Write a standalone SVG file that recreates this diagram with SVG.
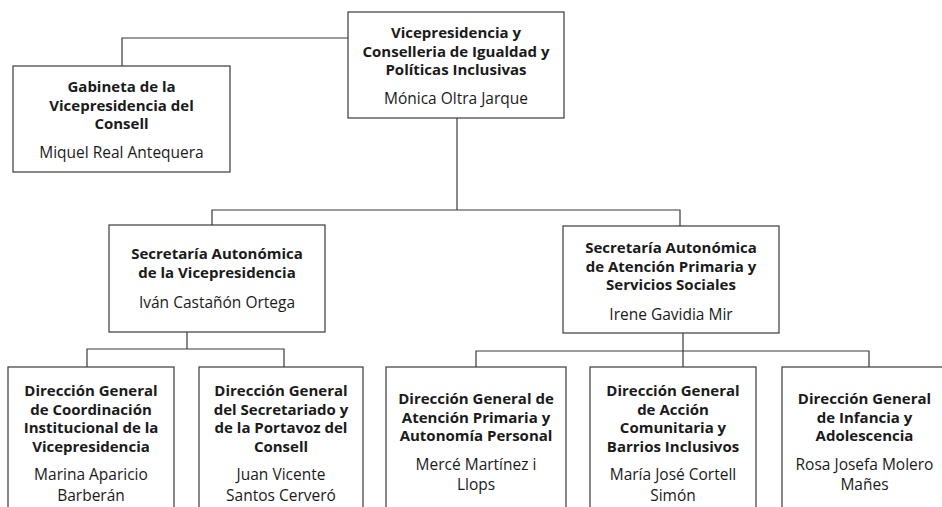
<svg xmlns="http://www.w3.org/2000/svg" width="942" height="507" viewBox="0 0 942 507">
<style>
  .box { fill: #ffffff; stroke: #3a3a3a; stroke-width: 1.2; }
  .conn { fill: none; stroke: #3a3a3a; stroke-width: 1.2; }
  text { font-family: "Open Sans", "Noto Sans", "DejaVu Sans", sans-serif; fill: #1a1a1a; text-anchor: middle; }
  .t { font-weight: bold; font-size: 15px; }
  .n { font-weight: normal; font-size: 15.5px; }
</style>
<rect x="0" y="0" width="942" height="507" fill="#ffffff"/>
<g id="connectors">
  <path class="conn" d="M348,38 H122 V66"/>
  <path class="conn" d="M457,118 V210"/>
  <path class="conn" d="M212,225 V210 H680 V226"/>
  <path class="conn" d="M187,332 V349"/>
  <path class="conn" d="M87,367 V349 H284 V367"/>
  <path class="conn" d="M683,333 V367"/>
  <path class="conn" d="M476,367 V351 H869 V367"/>
</g>
<g id="node-vicepresidencia">
  <rect class="box" x="348" y="12" width="216" height="106"/>
  <text class="t" x="456" y="38">Vicepresidencia y</text>
  <text class="t" x="456" y="56.5">Conselleria de Igualdad y</text>
  <text class="t" x="456" y="75">Políticas Inclusivas</text>
  <text class="n" x="456" y="104">Mónica Oltra Jarque</text>
</g>
<g id="node-gabineta">
  <rect class="box" x="13" y="66" width="217" height="106"/>
  <text class="t" x="121.5" y="92">Gabineta de la</text>
  <text class="t" x="121.5" y="110.5">Vicepresidencia del</text>
  <text class="t" x="121.5" y="129">Consell</text>
  <text class="n" x="121.5" y="158">Miquel Real Antequera</text>
</g>
<g id="node-secretaria-vicepresidencia">
  <rect class="box" x="109" y="225" width="216" height="107"/>
  <text class="t" x="217" y="259">Secretaría Autonómica</text>
  <text class="t" x="217" y="277.5">de la Vicepresidencia</text>
  <text class="n" x="217" y="308">Iván Castañón Ortega</text>
</g>
<g id="node-secretaria-atencion">
  <rect class="box" x="563" y="226" width="216" height="107"/>
  <text class="t" x="671" y="253">Secretaría Autonómica</text>
  <text class="t" x="671" y="271.5">de Atención Primaria y</text>
  <text class="t" x="671" y="290">Servicios Sociales</text>
  <text class="n" x="671" y="320">Irene Gavidia Mir</text>
</g>
<g id="node-dg-coordinacion">
  <rect class="box" x="8" y="367" width="166" height="150"/>
  <text class="t" x="91" y="396">Dirección General</text>
  <text class="t" x="91" y="414.5">de Coordinación</text>
  <text class="t" x="91" y="433">Institucional de la</text>
  <text class="t" x="91" y="451.5">Vicepresidencia</text>
  <text class="n" x="91" y="480">Marina Aparicio</text>
  <text class="n" x="91" y="500.5">Barberán</text>
</g>
<g id="node-dg-secretariado">
  <rect class="box" x="199" y="367" width="164" height="150"/>
  <text class="t" x="281" y="396">Dirección General</text>
  <text class="t" x="281" y="414.5">del Secretariado y</text>
  <text class="t" x="281" y="433">de la Portavoz del</text>
  <text class="t" x="281" y="451.5">Consell</text>
  <text class="n" x="281" y="480">Juan Vicente</text>
  <text class="n" x="281" y="500.5">Santos Cerveró</text>
</g>
<g id="node-dg-atencion">
  <rect class="box" x="386" y="367" width="180" height="150"/>
  <text class="t" x="476" y="404">Dirección General de</text>
  <text class="t" x="476" y="422.5">Atención Primaria y</text>
  <text class="t" x="476" y="441">Autonomía Personal</text>
  <text class="n" x="476" y="469.5">Mercé Martínez i</text>
  <text class="n" x="476" y="490">Llops</text>
</g>
<g id="node-dg-accion">
  <rect class="box" x="590" y="367" width="166" height="150"/>
  <text class="t" x="673" y="396">Dirección General</text>
  <text class="t" x="673" y="414.5">de Acción</text>
  <text class="t" x="673" y="433">Comunitaria y</text>
  <text class="t" x="673" y="451.5">Barrios Inclusivos</text>
  <text class="n" x="673" y="480">María José Cortell</text>
  <text class="n" x="673" y="500.5">Simón</text>
</g>
<g id="node-dg-infancia">
  <rect class="box" x="782" y="367" width="166" height="150"/>
  <text class="t" x="864.5" y="404">Dirección General</text>
  <text class="t" x="864.5" y="422.5">de Infancia y</text>
  <text class="t" x="864.5" y="441">Adolescencia</text>
  <text class="n" x="864.5" y="469.5">Rosa Josefa Molero</text>
  <text class="n" x="864.5" y="490">Mañes</text>
</g>
</svg>
